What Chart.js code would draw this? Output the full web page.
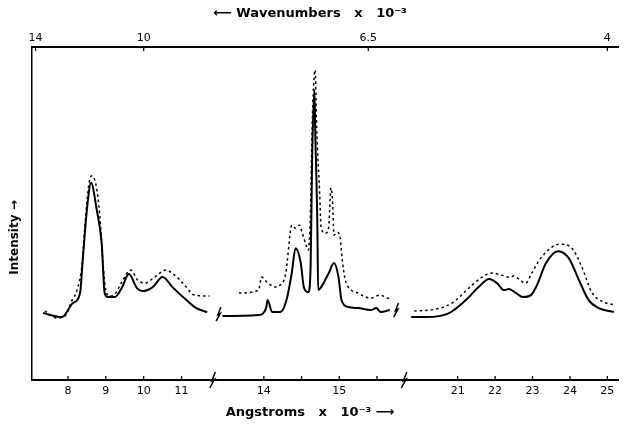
<!DOCTYPE html>
<html><head><meta charset="utf-8">
<script src="https://cdn.jsdelivr.net/npm/chart.js@4.4.0/dist/chart.umd.min.js"></script>
<style>html,body{margin:0;padding:0;background:#fff}</style>
</head><body>
<canvas id="c" width="625" height="426"></canvas>
<script>
// ---- axis segments (wavelength, Angstroms x 10^-3) ----
const segRanges = [[7.05, 11.82], [13.32, 15.86], [19.57, 25.30]];
const segWeights = [181, 192, 215];
const bottomTicks1 = [8, 9, 10, 11];
const bottomTicks2 = [14, 14.5, 15, 15.5];
const bottomTicks3 = [21, 22, 23, 24, 25];
const bottomLabels2 = ['14', '', '15', ''];
const wavenumberTicks = [14, 10, 6.5, 4];
const wavenumberLabels = ['14', '10', '6.5', '4'];

// ---- solid curve ----
const solid1X = [7.34,7.84,8.13,8.32,8.39,8.50,8.61,8.76,8.89,8.97,9.05,9.24,9.42,9.61,9.82,9.97,10.24,10.50,10.76,11.13,11.39,11.68];
const solid1Y = [20.1,18.9,23.1,26.1,36.0,51.1,59.2,51.1,41.1,26.1,24.9,24.9,27.6,31.8,27.6,26.7,27.9,30.9,27.9,24.0,21.6,20.4];
const solid2X = [13.45,13.93,14.03,14.05,14.11,14.22,14.30,14.37,14.42,14.49,14.53,14.59,14.62,14.64,14.67,14.68,14.71,14.72,14.76,14.86,14.93,14.99,15.03,15.12,15.25,15.42,15.49,15.55,15.67];
const solid2Y = [19.2,19.5,21.6,24.0,20.4,20.4,24.0,32.1,39.6,35.1,27.9,26.4,33.9,66.1,87.1,76.0,45.9,27.0,27.9,32.1,35.1,30.9,24.0,21.9,21.6,21.0,21.6,20.4,21.0];
const solid3X = [19.76,20.16,20.77,21.22,21.56,21.84,22.05,22.24,22.37,22.56,22.74,22.96,23.12,23.36,23.68,23.97,24.24,24.50,24.77,25.17];
const solid3Y = [18.9,18.9,20.1,24.0,27.9,30.3,29.1,27.0,27.3,26.1,24.9,25.5,28.5,35.1,38.7,36.6,30.0,24.0,21.6,20.4];

// ---- dotted curve ----
const dot1X = [7.39,7.71,7.92,8.11,8.24,8.37,8.47,8.55,8.63,8.74,8.84,8.92,9.00,9.11,9.26,9.42,9.66,9.84,10.03,10.29,10.58,10.82,11.08,11.34,11.74];
const dot1Y = [20.7,18.6,19.2,24.0,27.0,34.5,49.5,58.6,61.3,58.6,49.5,36.0,27.0,25.2,26.1,29.4,33.0,30.0,29.1,30.9,33.0,31.5,28.5,25.5,25.2];
const dot2X = [13.67,13.93,13.97,14.04,14.16,14.20,14.29,14.36,14.37,14.42,14.47,14.51,14.57,14.59,14.62,14.64,14.68,14.70,14.74,14.76,14.82,14.86,14.89,14.91,14.93,14.97,15.01,15.04,15.08,15.12,15.25,15.42,15.54,15.61,15.67];
const dot2Y = [26.1,27.0,30.9,29.4,27.9,28.2,32.1,45.9,46.5,45.6,46.5,44.1,39.9,39.0,52.0,76.0,93.1,76.0,56.2,45.6,44.1,45.9,57.7,54.1,43.5,44.4,42.9,36.0,30.0,27.9,26.1,24.6,25.5,24.9,24.3];
const dot3X = [19.84,20.42,20.85,21.30,21.65,21.92,22.18,22.37,22.50,22.64,22.82,22.98,23.22,23.73,24.05,24.32,24.58,24.90,25.22];
const dot3Y = [20.7,21.3,23.1,27.6,30.9,32.1,31.5,30.9,31.2,30.3,29.1,32.1,36.6,40.8,39.6,33.9,26.4,23.4,22.5];

// break marks: level (intensity) where curve breaks are drawn
const breakLevels = [19.8, 21.0];

const pts = (xs, ys) => xs.map((x, i) => ({x, y: ys[i]}));
// wavenumber (x 10^-3 cm^-1) -> wavelength (Angstroms x 10^-3)
const wnToLambda = w => 100 / w;

Chart.defaults.font.family = "'DejaVu Sans', sans-serif";
Chart.defaults.color = '#000';

function solidDs(xs, ys, axis) {
  return {data: pts(xs, ys), xAxisID: axis, yAxisID: 'y', borderColor: '#000', borderWidth: 2,
    pointRadius: 0, cubicInterpolationMode: 'monotone', fill: false};
}
function dotDs(xs, ys, axis) {
  return {data: pts(xs, ys), xAxisID: axis, yAxisID: 'y', borderColor: '#000', borderWidth: 1.5,
    borderDash: [2.5, 3], pointRadius: 0, cubicInterpolationMode: 'monotone', fill: false};
}

const bottomTickSets = [bottomTicks1, bottomTicks2, bottomTicks3];

function bottomAxis(i) {
  return {
    type: 'linear', position: 'bottom', stack: 'b', stackWeight: segWeights[i], weight: 1,
    min: segRanges[i][0], max: segRanges[i][1],
    grid: {display: false, drawTicks: false, tickLength: 0, lineWidth: 0},
    border: {display: true, color: '#000', width: 2},
    afterBuildTicks: s => { s.ticks = bottomTickSets[i].map(v => ({value: v})); },
    afterFit: s => { s.height = 25; },
    ticks: {autoSkip: false, maxRotation: 0, padding: 5, font: {size: 11},
      callback: (v) => {
        const k = bottomTickSets[i].indexOf(v);
        if (i === 1) return bottomLabels2[k];
        return String(v);
      }}
  };
}
function topAxis(i) {
  const inRange = wavenumberTicks.filter(w => wnToLambda(w) >= segRanges[i][0] && wnToLambda(w) <= segRanges[i][1]);
  return {
    type: 'linear', position: 'top', stack: 't', stackWeight: segWeights[i], weight: 3 - i,
    min: segRanges[i][0], max: segRanges[i][1],
    grid: {display: false, drawTicks: false, tickLength: 0, lineWidth: 0},
    border: {display: true, color: '#000', width: 2},
    afterBuildTicks: s => { s.ticks = inRange.map(w => ({value: wnToLambda(w)})); },
    afterFit: s => { s.height = 17; },
    ticks: {autoSkip: false, maxRotation: 0, padding: 2, font: {size: 11},
      callback: (v) => {
        const k = wavenumberTicks.findIndex(t => Math.abs(wnToLambda(t) - v) < 1e-6);
        return k >= 0 ? wavenumberLabels[k] : '';
      }}
  };
}

function drawBreak(ctx, x, y, h) {
  ctx.beginPath();
  ctx.moveTo(x + h * 0.35, y - h);
  ctx.lineTo(x - h * 0.1, y + h * 0.1);
  ctx.lineTo(x + h * 0.25, y - h * 0.1);
  ctx.lineTo(x - h * 0.35, y + h);
  ctx.stroke();
}

const decoPlugin = {
  id: 'deco',
  afterDraw(chart) {
    const ctx = chart.ctx;
    ctx.save();
    ctx.strokeStyle = '#000';
    ctx.lineWidth = 1.3;
    ['x1', 'x2', 'x3'].forEach(id => {
      const s = chart.scales[id];
      s.ticks.forEach(t => {
        const px = s.getPixelForValue(t.value);
        ctx.beginPath(); ctx.moveTo(px, s.top); ctx.lineTo(px, s.top - 4); ctx.stroke();
      });
    });
    ['t1', 't2', 't3'].forEach(id => {
      const s = chart.scales[id];
      s.ticks.forEach(t => {
        const px = s.getPixelForValue(t.value);
        ctx.beginPath(); ctx.moveTo(px, s.bottom); ctx.lineTo(px, s.bottom + 4); ctx.stroke();
      });
    });
    // axis breaks
    const yS = chart.scales.y;
    ctx.lineWidth = 1.5;
    const b1 = chart.scales.x1.right, b2 = chart.scales.x2.right;
    drawBreak(ctx, b1, chart.scales.x1.top, 8);
    drawBreak(ctx, b2, chart.scales.x2.top, 8);
    // curve breaks
    drawBreak(ctx, b1 + 6, yS.getPixelForValue(breakLevels[0]), 7);
    drawBreak(ctx, b2 - 8, yS.getPixelForValue(breakLevels[1]), 7);
    ctx.restore();
  }
};

new Chart(document.getElementById('c'), {
  type: 'line',
  data: {datasets: [
    solidDs(solid1X, solid1Y, 'x1'), solidDs(solid2X, solid2Y, 'x2'), solidDs(solid3X, solid3Y, 'x3'),
    dotDs(dot1X, dot1Y, 'x1'), dotDs(dot2X, dot2Y, 'x2'), dotDs(dot3X, dot3Y, 'x3')
  ]},
  options: {
    responsive: false, animation: false,
    layout: {padding: {left: 0, right: 5, top: 0, bottom: 0}},
    plugins: {
      legend: {display: false}, tooltip: {enabled: false},
      title: {display: true, text: '\u27F5 Wavenumbers   x   10\u207B\u00B3', font: {size: 13, weight: 'bold'},
        padding: {top: 6, bottom: 8.4}, color: '#000'},
      subtitle: {display: true, position: 'bottom', text: 'Angstroms   x   10\u207B\u00B3 \u27F6',
        font: {size: 13, weight: 'bold'}, padding: {top: 0.2, bottom: 5.2}, color: '#000'}
    },
    scales: {
      x1: bottomAxis(0), x2: bottomAxis(1), x3: bottomAxis(2),
      t1: topAxis(0), t2: topAxis(1), t3: topAxis(2),
      y: {type: 'linear', position: 'left', min: 0, max: 100,
        grid: {display: false}, ticks: {display: false},
        border: {display: true, color: '#000', width: 1.5},
        afterFit: s => { s.width = 32; },
        title: {display: true, text: 'Intensity \u2192\u2003\u2003\u2003\u2003', font: {size: 12, weight: 'bold'},
          padding: {top: 8, bottom: 0}}
      }
    }
  },
  plugins: [decoPlugin]
});
</script>
</body></html>
